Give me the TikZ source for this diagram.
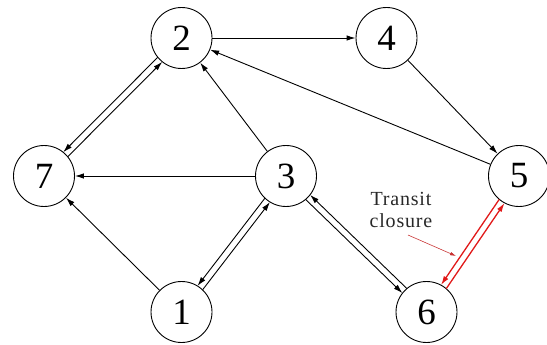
\documentclass[tikz,border=0pt]{standalone}
\usepackage{fontspec}
\setmainfont{Liberation Serif}
\usetikzlibrary{calc,arrows.meta}
\newcommand\pedge[3][]{\draw[edge,#1] ($(#2)!30.5pt!(#3)!3.2pt!-90:(#3)$) -- ($(#3)!30.5pt!(#2)!3.2pt!90:(#2)$);}
\begin{document}
\begin{tikzpicture}[x=1pt,y=-1pt,
  vertex/.style={circle,draw,line width=0.9pt,minimum size=61pt,inner sep=0pt,font=\fontsize{37}{37}\selectfont},
  edge/.style={line width=0.9pt,-{Latex[length=9pt,width=5.5pt]}},
  redge/.style={draw={rgb,255:red,225;green,25;blue,25},line width=1.3pt},
  note/.style={font=\fontsize{20}{22}\selectfont\addfontfeatures{LetterSpace=4},align=center,text={rgb,255:red,40;green,40;blue,40},inner sep=0pt},
  pointer/.style={draw={rgb,255:red,200;green,50;blue,50},line width=0.6pt,-{Latex[length=6pt,width=3.5pt]}}]
\useasboundingbox (0,0) rectangle (547,345);
\node[vertex] (n2) at (181.5,38) {2};
\node[vertex] (n4) at (386.5,38) {4};
\node[vertex] (n7) at (44,176) {7};
\node[vertex] (n3) at (286,176) {3};
\node[vertex] (n5) at (519,176) {5};
\node[vertex] (n1) at (181.5,312) {1};
\node[vertex] (n6) at (426.5,312) {6};
\draw[edge] (n2) -- (n4);
\draw[edge] (n4) -- (n5);
\draw[edge] (n5) -- (n2);
\draw[edge] (n3) -- (n2);
\draw[edge] (n3) -- (n7);
\draw[edge] (n1) -- (n7);
\pedge{n2}{n7}
\pedge{n7}{n2}
\pedge{n3}{n1}
\pedge{n1}{n3}
\pedge{n3}{n6}
\pedge{n6}{n3}
\pedge[redge]{n5}{n6}
\pedge[redge]{n6}{n5}
\node[note] (txt) at (401,210) {Transit\\closure};
\coordinate (pa) at (408,235);
\coordinate (pb) at (456,256);
\draw[pointer] (pa) -- (pb);
\end{tikzpicture}
\end{document}
